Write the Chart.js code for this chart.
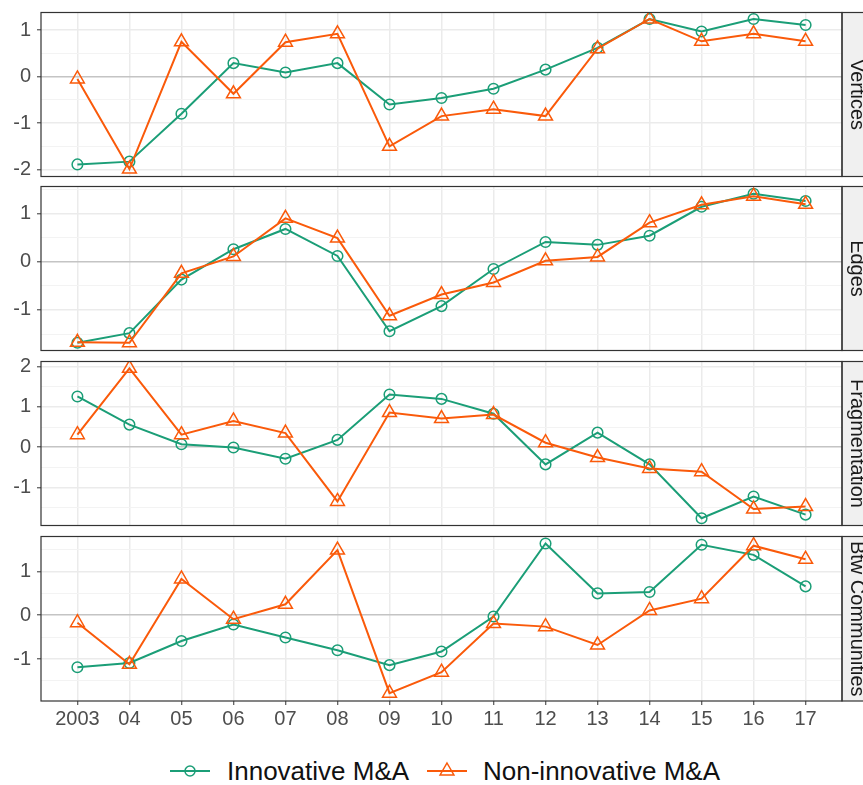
<!DOCTYPE html>
<html>
<head>
<meta charset="utf-8">
<script src="https://cdn.jsdelivr.net/npm/chart.js@4"></script>
<style>
  body { margin: 0; background: #fff; width: 863px; height: 785px; overflow: hidden; position: relative;
         font-family: "Liberation Sans", Arial, sans-serif; }
  canvas.panel { position: absolute; left: 0; }
  .key { position: absolute; top: 760px; }
  .ltext { position: absolute; top: 756px; font-size: 26px; color: #111; line-height: 30px; white-space: nowrap; }
</style>
</head>
<body>
<canvas class="panel" id="p0"></canvas>
<canvas class="panel" id="p1"></canvas>
<canvas class="panel" id="p2"></canvas>
<canvas class="panel" id="p3"></canvas>

<svg class="key" style="left:168px" width="44" height="22">
  <line x1="2" y1="11" x2="42" y2="11" stroke="#1B9E77" stroke-width="2"/>
  <circle cx="22" cy="11" r="5" fill="none" stroke="#1B9E77" stroke-width="1.5"/>
</svg>
<div class="ltext" style="left:227px">Innovative M&amp;A</div>
<svg class="key" style="left:425px" width="44" height="22">
  <line x1="2" y1="11" x2="42" y2="11" stroke="#FA5A0A" stroke-width="2"/>
  <polygon points="22,3 28.9,15 15.1,15" fill="none" stroke="#FA5A0A" stroke-width="1.5"/>
</svg>
<div class="ltext" style="left:483px">Non-innovative M&amp;A</div>

<script>
const years = [2003, 2004, 2005, 2006, 2007, 2008, 2009, 2010, 2011, 2012, 2013, 2014, 2015, 2016, 2017];
const xTickLabels = ["2003", "04", "05", "06", "07", "08", "09", "10", "11", "12", "13", "14", "15", "16", "17"];
const panelNames = ["Vertices", "Edges", "Fragmentation", "Btw Communities"];

const innovVertices    = [-1.89, -1.83, -0.80, 0.29, 0.09, 0.29, -0.60, -0.46, -0.26, 0.15, 0.62, 1.24, 0.97, 1.24, 1.11];
const nonInnovVertices = [-0.05, -1.99, 0.75, -0.37, 0.74, 0.92, -1.50, -0.85, -0.70, -0.85, 0.60, 1.24, 0.76, 0.92, 0.76];

const innovEdges    = [-1.68, -1.48, -0.37, 0.26, 0.68, 0.12, -1.44, -0.92, -0.15, 0.41, 0.35, 0.54, 1.14, 1.41, 1.26];
const nonInnovEdges = [-1.67, -1.68, -0.24, 0.11, 0.90, 0.49, -1.12, -0.68, -0.43, 0.02, 0.10, 0.81, 1.18, 1.36, 1.19];

const innovFrag    = [1.26, 0.56, 0.07, -0.01, -0.29, 0.18, 1.31, 1.20, 0.83, -0.43, 0.36, -0.43, -1.77, -1.23, -1.68];
const nonInnovFrag = [0.31, 1.96, 0.31, 0.65, 0.35, -1.35, 0.86, 0.71, 0.81, 0.11, -0.26, -0.53, -0.61, -1.54, -1.48];

const innovBtw    = [-1.19, -1.09, -0.59, -0.21, -0.51, -0.80, -1.14, -0.83, -0.03, 1.64, 0.50, 0.53, 1.61, 1.38, 0.66];
const nonInnovBtw = [-0.17, -1.12, 0.83, -0.09, 0.25, 1.49, -1.78, -1.30, -0.19, -0.26, -0.68, 0.11, 0.38, 1.59, 1.28];

const innovSeries = [innovVertices, innovEdges, innovFrag, innovBtw];
const nonInnovSeries = [nonInnovVertices, nonInnovEdges, nonInnovFrag, nonInnovBtw];
const yMins = [-2.15, -1.84, -1.95, -1.96];
const yMaxs = [1.38, 1.56, 2.13, 1.80];

const GREEN = "#1B9E77";
const ORANGE = "#FA5A0A";
const PLOT_TOPS = [12, 186, 361, 536];
const PLOT_H = 164;
const X_AXIS_H = 34;

Chart.defaults.font.family = '"Liberation Sans", Arial, sans-serif';

const isWhole = v => Math.abs(v - Math.round(v)) < 1e-6;

// panel border + facet strip on the right
const facetPlugin = {
  id: "facet",
  afterDraw(chart, args, opts) {
    const { ctx, chartArea: a } = chart;
    ctx.save();
    ctx.fillStyle = "#f0f0f0";
    ctx.fillRect(a.right, a.top, 30, a.bottom - a.top);
    ctx.strokeStyle = "#333";
    ctx.lineWidth = 1.2;
    ctx.strokeRect(a.left, a.top, a.right - a.left, a.bottom - a.top);
    ctx.strokeRect(a.right, a.top, 30, a.bottom - a.top);
    ctx.translate(a.right + 15, (a.top + a.bottom) / 2);
    ctx.rotate(Math.PI / 2);
    ctx.fillStyle = "#1a1a1a";
    ctx.font = '20px "Liberation Sans", Arial, sans-serif';
    ctx.textAlign = "center";
    ctx.textBaseline = "middle";
    ctx.fillText(opts.label, 0, 0);
    ctx.restore();
  }
};

function noEdgePad(s) {
  s.paddingTop = 0;
  s.paddingBottom = 0;
  s.paddingLeft = 0;
  s.paddingRight = 0;
}

function panelConfig(i) {
  const last = i === 3;
  return {
    type: "line",
    data: {
      datasets: [
        {
          label: "Innovative M&A",
          data: years.map((y, k) => ({ x: y, y: innovSeries[i][k] })),
          borderColor: GREEN,
          borderWidth: 2,
          pointStyle: "circle",
          pointRadius: 5.3,
          pointBorderWidth: 1.5,
          pointBackgroundColor: "rgba(0,0,0,0)",
          pointBorderColor: GREEN,
          tension: 0,
          order: 1
        },
        {
          label: "Non-innovative M&A",
          data: years.map((y, k) => ({ x: y, y: nonInnovSeries[i][k] })),
          borderColor: ORANGE,
          borderWidth: 2,
          pointStyle: "triangle",
          pointRadius: 8,
          pointBorderWidth: 1.5,
          pointBackgroundColor: "rgba(0,0,0,0)",
          pointBorderColor: ORANGE,
          tension: 0,
          order: 0
        }
      ]
    },
    options: {
      responsive: false,
      animation: false,
      layout: { padding: { top: 4, bottom: last ? 0 : 4, left: 0, right: 21 } },
      plugins: {
        legend: { display: false },
        tooltip: { enabled: false },
        facet: { label: panelNames[i] }
      },
      scales: {
        x: {
          type: "linear",
          min: 2002.3,
          max: 2017.7,
          afterFit: s => { s.height = last ? X_AXIS_H : 0; noEdgePad(s); },
          border: { display: false },
          grid: {
            color: "#ebebeb",
            lineWidth: 1.5,
            drawTicks: last,
            tickLength: 4,
            tickColor: "#333",
            tickWidth: 1
          },
          ticks: {
            display: last,
            stepSize: 1,
            includeBounds: false,
            autoSkip: false,
            maxRotation: 0,
            padding: 2,
            color: "#4d4d4d",
            font: { size: 20 },
            callback: v => xTickLabels[years.indexOf(Math.round(v))]
          }
        },
        y: {
          min: yMins[i],
          max: yMaxs[i],
          afterFit: s => { s.width = 41; noEdgePad(s); },
          border: { display: false },
          grid: {
            color: c => c.tick.value === 0 ? "#c4c4c4" : (isWhole(c.tick.value) ? "#ebebeb" : "#f3f3f3"),
            lineWidth: c => isWhole(c.tick.value) ? 1.6 : 1,
            tickLength: 4,
            tickColor: c => isWhole(c.tick.value) ? "#333" : "rgba(0,0,0,0)",
            tickWidth: 1
          },
          ticks: {
            stepSize: 0.5,
            includeBounds: false,
            autoSkip: false,
            padding: 6,
            color: "#4d4d4d",
            font: { size: 20 },
            callback: v => isWhole(v) ? String(Math.round(v)) : ""
          }
        }
      }
    },
    plugins: [facetPlugin]
  };
}

function makePanel(i) {
  const cv = document.getElementById("p" + i);
  cv.width = 863;
  cv.height = 240;

  // first pass: measure how much room Chart.js keeps above and below the plot area
  let chart = new Chart(cv, panelConfig(i));
  const topInset = chart.chartArea.top;
  const bottomInset = cv.height - chart.chartArea.bottom;
  chart.destroy();

  // second pass: size the canvas so the plot area is exactly PLOT_H tall
  cv.width = 863;
  cv.height = Math.round(topInset + PLOT_H + bottomInset);
  cv.style.top = Math.round(PLOT_TOPS[i] - topInset) + "px";
  chart = new Chart(cv, panelConfig(i));
}

[0, 1, 2, 3].forEach(makePanel);
</script>
</body>
</html>
